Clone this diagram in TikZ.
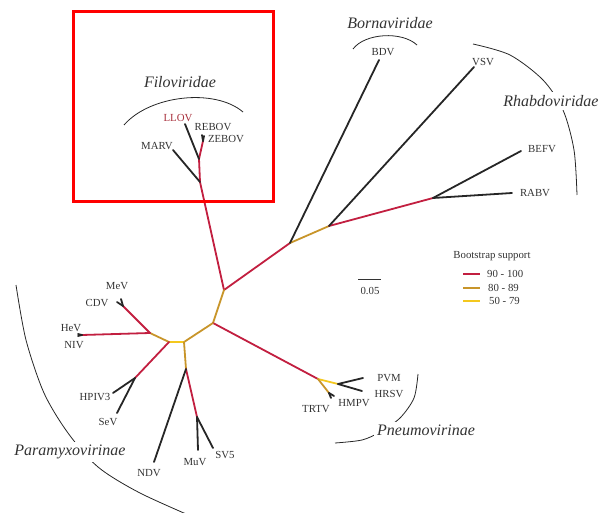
\documentclass[tikz,border=0pt]{standalone}
\usepackage{fontspec}
\setmainfont{Liberation Serif}
\begin{document}
\begin{tikzpicture}[x=1pt,y=-1pt,
  br/.style={line width=1.8pt,line cap=round},
  bs90/.style={br,draw=c90},
  bs80/.style={br,draw=c80},
  bs50/.style={br,draw=c50},
  bsbk/.style={br,draw=black!85},
  tax/.style={font=\fontsize{10.8}{12}\selectfont,inner sep=1pt,text=black!80},
  fam/.style={font=\fontsize{16}{17}\selectfont\itshape,text=black!80,fill=white,inner sep=3pt},
  arcl/.style={line width=0.8pt,black!85}]
\definecolor{c90}{HTML}{C21F40}
\definecolor{c80}{HTML}{C8952A}
\definecolor{c50}{HTML}{F4C81E}
\definecolor{llovc}{HTML}{A8303C}
\useasboundingbox (0,0) rectangle (605,513);
% ---------- coordinates ----------
\coordinate (A) at (224,290);
\coordinate (J1) at (290,243);
\coordinate (J2) at (329,226);
\coordinate (J3) at (433,198);
\coordinate (BDVt) at (379,60);
\coordinate (VSVt) at (474,67);
\coordinate (BEFVt) at (521,151);
\coordinate (RABVt) at (512,193);
\coordinate (F1) at (200,182);
\coordinate (F2) at (199,159);
\coordinate (F3) at (203,141);
\coordinate (MARVt) at (173,150);
\coordinate (LLOVt) at (185,124);
\coordinate (REBOVt) at (202,135);
\coordinate (ZEBOVt) at (204,136);
\coordinate (B) at (213,323);
\coordinate (P1) at (318,379);
\coordinate (P2) at (338,384);
\coordinate (P3) at (329,393);
\coordinate (PVMt) at (363,378);
\coordinate (HRSVt) at (362,391);
\coordinate (TRTVt) at (331,398);
\coordinate (HMPVt) at (334,396);
\coordinate (C1) at (184,342);
\coordinate (C2) at (169,342);
\coordinate (M1) at (150,333);
\coordinate (M2) at (123,306);
\coordinate (MeVt) at (121,299);
\coordinate (CDVt) at (117,302);
\coordinate (H1) at (82,335);
\coordinate (HeVt) at (78,334);
\coordinate (NiVt) at (78,336);
\coordinate (S1) at (135,378);
\coordinate (HPIVt) at (113,393);
\coordinate (SeVt) at (117,413);
\coordinate (D1) at (186,369);
\coordinate (D2) at (197,417);
\coordinate (NDVt) at (154,462);
\coordinate (MuVt) at (198,450);
\coordinate (SVt) at (213,448);
% ---------- branches ----------
\draw[bs90] (A) -- (F1);
\draw[bs90] (F1) -- (F2);
\draw[bs90] (F2) -- (F3);
\draw[bsbk] (F1) -- (MARVt);
\draw[bsbk] (F2) -- (LLOVt);
\draw[bsbk] (F3) -- (REBOVt);
\draw[bsbk] (F3) -- (ZEBOVt);
\draw[bs90] (A) -- (J1);
\draw[bs80] (J1) -- (J2);
\draw[bs90] (J2) -- (J3);
\draw[bsbk] (J1) -- (BDVt);
\draw[bsbk] (J2) -- (VSVt);
\draw[bsbk] (J3) -- (BEFVt);
\draw[bsbk] (J3) -- (RABVt);
\draw[bs80] (A) -- (B);
\draw[bs90] (B) -- (P1);
\draw[bs50] (P1) -- (P2);
\draw[bs80] (P1) -- (P3);
\draw[bsbk] (P2) -- (PVMt);
\draw[bsbk] (P2) -- (HRSVt);
\draw[bsbk] (P3) -- (TRTVt);
\draw[bsbk] (P3) -- (HMPVt);
\draw[bs80] (B) -- (C1);
\draw[bs50] (C1) -- (C2);
\draw[bs80] (C2) -- (M1);
\draw[bs90] (M1) -- (M2);
\draw[bsbk] (M2) -- (MeVt);
\draw[bsbk] (M2) -- (CDVt);
\draw[bs90] (M1) -- (H1);
\draw[bsbk] (H1) -- (HeVt);
\draw[bsbk] (H1) -- (NiVt);
\draw[bs90] (C2) -- (S1);
\draw[bsbk] (S1) -- (HPIVt);
\draw[bsbk] (S1) -- (SeVt);
\draw[bs80] (C1) -- (D1);
\draw[bs90] (D1) -- (D2);
\draw[bsbk] (D1) -- (NDVt);
\draw[bsbk] (D2) -- (MuVt);
\draw[bsbk] (D2) -- (SVt);
% ---------- arcs ----------
\draw[arcl] (124,125) .. controls (150,95) and (215,88) .. (243,112);
\draw[arcl] (353,49) .. controls (365,33) and (402,31) .. (417,45);
\draw[arcl] plot[smooth] coordinates {(473,44) (510,55) (543,80) (563,110) (574,150) (577,195)};
\draw[arcl] plot[smooth] coordinates {(418,374) (414,398) (400,418) (380,432) (362,440) (335,443)};
\draw[arcl] plot[smooth] coordinates {(16,285) (26,340) (44,393) (68,433) (98,467) (140,493) (200,520)};
% ---------- labels ----------
\node[fam] (filo) at (180,82) {Filoviridae};
\node[fam] (borna) at (390,23) {Bornaviridae};
\node[fam] (rhabdo) at (551,101) {Rhabdoviridae};
\node[fam] (pneumo) at (426,430) {Pneumovirinae};
\node[fam] (paramyxo) at (70,452) {Paramyxovirinae};
\node[tax,text=llovc] (LLOV) at (178,118) {LLOV};
\node[tax] (REBOV) at (213,127) {REBOV};
\node[tax] (ZEBOV) at (226,139) {ZEBOV};
\node[tax] (MARV) at (157,146) {MARV};
\node[tax] (BDV) at (383,52) {BDV};
\node[tax] (VSV) at (483,62) {VSV};
\node[tax] (BEFV) at (542,149) {BEFV};
\node[tax] (RABV) at (535,193) {RABV};
\node[tax] (PVM) at (389,378) {PVM};
\node[tax] (HRSV) at (389,394) {HRSV};
\node[tax] (HMPV) at (354,403) {HMPV};
\node[tax] (TRTV) at (316,409) {TRTV};
\node[tax] (MeV) at (117,286) {MeV};
\node[tax] (CDV) at (97,303) {CDV};
\node[tax] (HeV) at (71,328) {HeV};
\node[tax] (NIV) at (74,345) {NIV};
\node[tax] (HPIV3) at (95,397) {HPIV3};
\node[tax] (SeV) at (108,422) {SeV};
\node[tax] (NDV) at (149,473) {NDV};
\node[tax] (MuV) at (195,462) {MuV};
\node[tax] (SV5) at (225,455) {SV5};
% ---------- legend ----------
\node[tax] (bslab) at (492,256) {Bootstrap support};
\coordinate (l1a) at (463,274); \coordinate (l1b) at (480,274);
\coordinate (l2a) at (463,288); \coordinate (l2b) at (480,288);
\coordinate (l3a) at (463,301); \coordinate (l3b) at (480,301);
\draw[line width=1.8pt,c90] (l1a) -- (l1b);
\draw[line width=1.8pt,c80] (l2a) -- (l2b);
\draw[line width=1.8pt,c50] (l3a) -- (l3b);
\node[tax,anchor=west] (lg1) at (486,274) {90 - 100};
\node[tax,anchor=west] (lg2) at (487,288) {80 - 89};
\node[tax,anchor=west] (lg3) at (488,301) {50 - 79};
% ---------- scale bar ----------
\coordinate (sba) at (358,279); \coordinate (sbb) at (381,279);
\draw[line width=0.8pt,black!80] (sba) -- (sbb);
\node[tax] (sblab) at (370,291) {0.05};
% ---------- highlight box ----------
\draw[line width=3pt,red] (73,12) rectangle (273,202);
\end{tikzpicture}
\end{document}
